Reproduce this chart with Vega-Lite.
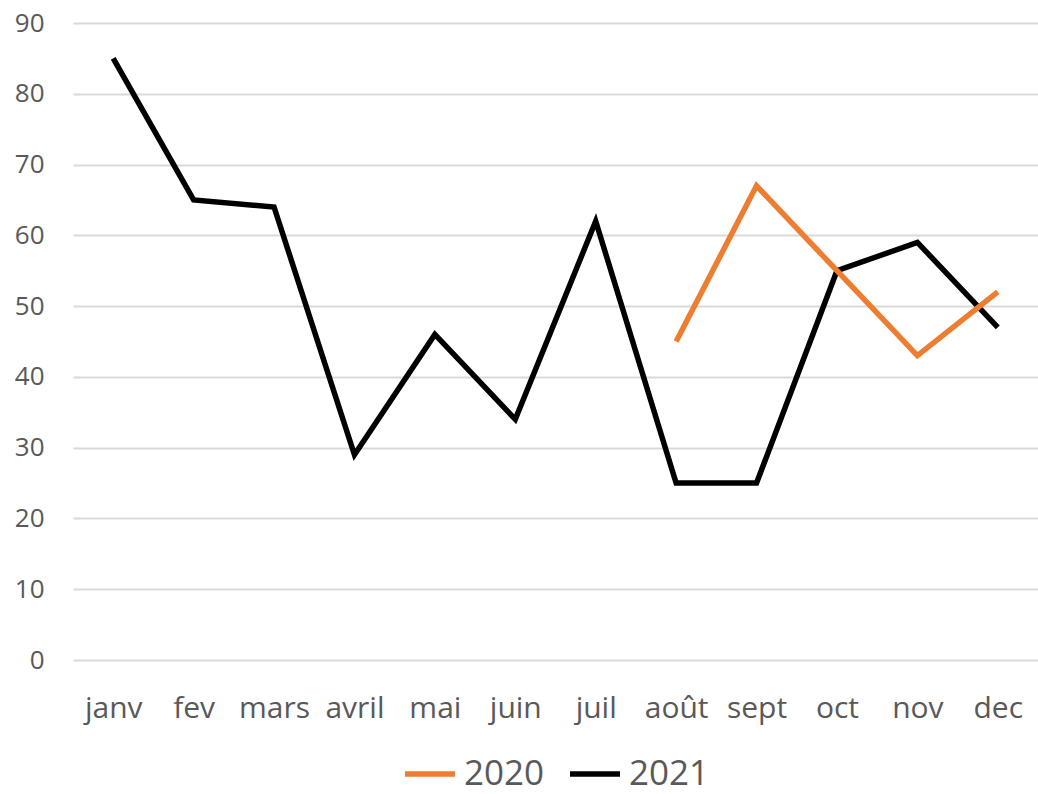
{
  "$schema": "https://vega.github.io/schema/vega-lite/v6.json",
  "width": 965,
  "height": 637,
  "autosize": "none",
  "padding": {"left": 73, "top": 23, "right": 0, "bottom": 134},
  "background": "white",
  "config": {
    "view": {"stroke": null},
    "font": "Open Sans",
    "legend": {"layout": {"bottom": {"anchor": "middle"}}}
  },
  "data": {
    "values": [
      {"mois": "janv", "annee": "2021", "valeur": 85},
      {"mois": "fev", "annee": "2021", "valeur": 65},
      {"mois": "mars", "annee": "2021", "valeur": 64},
      {"mois": "avril", "annee": "2021", "valeur": 29},
      {"mois": "mai", "annee": "2021", "valeur": 46},
      {"mois": "juin", "annee": "2021", "valeur": 34},
      {"mois": "juil", "annee": "2021", "valeur": 62},
      {"mois": "août", "annee": "2021", "valeur": 25},
      {"mois": "sept", "annee": "2021", "valeur": 25},
      {"mois": "oct", "annee": "2021", "valeur": 55},
      {"mois": "nov", "annee": "2021", "valeur": 59},
      {"mois": "dec", "annee": "2021", "valeur": 47},
      {"mois": "août", "annee": "2020", "valeur": 45},
      {"mois": "sept", "annee": "2020", "valeur": 67},
      {"mois": "oct", "annee": "2020", "valeur": 55},
      {"mois": "nov", "annee": "2020", "valeur": 43},
      {"mois": "dec", "annee": "2020", "valeur": 52}
    ]
  },
  "mark": {"type": "line", "strokeWidth": 5.5, "strokeJoin": "miter"},
  "encoding": {
    "x": {
      "field": "mois",
      "type": "nominal",
      "sort": ["janv", "fev", "mars", "avril", "mai", "juin", "juil", "août", "sept", "oct", "nov", "dec"],
      "scale": {"paddingInner": 0, "paddingOuter": 0.5},
      "axis": {
        "title": null,
        "labelAngle": 0,
        "labelFontSize": 30,
        "labelColor": "#595959",
        "labelPadding": 33,
        "ticks": false,
        "domain": false,
        "grid": false
      }
    },
    "y": {
      "field": "valeur",
      "type": "quantitative",
      "scale": {"domain": [0, 90]},
      "axis": {
        "title": null,
        "values": [0, 10, 20, 30, 40, 50, 60, 70, 80, 90],
        "labelFontSize": 26,
        "labelColor": "#595959",
        "labelPadding": 29,
        "ticks": false,
        "domain": false,
        "gridColor": "#d9d9d9",
        "gridWidth": 2
      }
    },
    "color": {
      "field": "annee",
      "type": "nominal",
      "scale": {"domain": ["2020", "2021"], "range": ["#ED7D31", "#000000"]},
      "legend": {
        "title": null,
        "orient": "bottom",
        "direction": "horizontal",
        "symbolType": "stroke",
        "symbolStrokeWidth": 5.5,
        "symbolSize": 2500,
        "labelFontSize": 35,
        "labelColor": "#595959",
        "labelOffset": 6,
        "columnPadding": 14,
        "offset": 23
      }
    }
  }
}
